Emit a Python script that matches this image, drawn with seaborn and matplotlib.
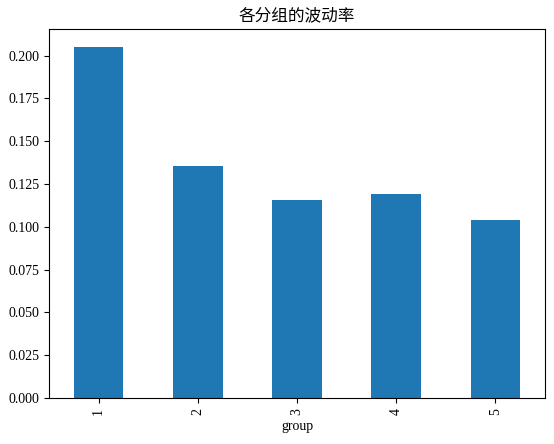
# -*- coding: utf-8 -*-
import pandas as pd
import numpy as np
import matplotlib
matplotlib.use('Agg')
import matplotlib.pyplot as plt
import seaborn as sns

# 字体：数字用衬线体，中文用CJK字体
plt.rcParams['font.family'] = ['Liberation Serif', 'Noto Sans CJK SC', 'DejaVu Sans']
plt.rcParams['axes.unicode_minus'] = False

# 数据
groups = ['1', '2', '3', '4', '5']
volatility = [0.2053, 0.1353, 0.1155, 0.1190, 0.1038]

df = pd.DataFrame({'group': groups, 'vol': volatility})

fig, ax = plt.subplots(figsize=(5.54, 4.44), dpi=100)
fig.subplots_adjust(left=0.0884, right=0.9838, top=0.9347, bottom=0.1036)

sns.barplot(data=df, x='group', y='vol', color='#1f77b4', saturation=1,
            width=0.5, ax=ax)

ax.set_xlim(-0.5, len(groups) - 0.5)
ax.set_ylim(0, max(volatility) * 1.05)
ax.set_yticks(np.arange(0, 0.201, 0.025))
ax.set_yticklabels(['%.3f' % v for v in np.arange(0, 0.201, 0.025)])
ax.tick_params(axis='x', labelrotation=90)
ax.set_xlabel('group')
ax.set_ylabel('')
ax.set_title('各分组的波动率')

fig.savefig('out.png', dpi=100)
